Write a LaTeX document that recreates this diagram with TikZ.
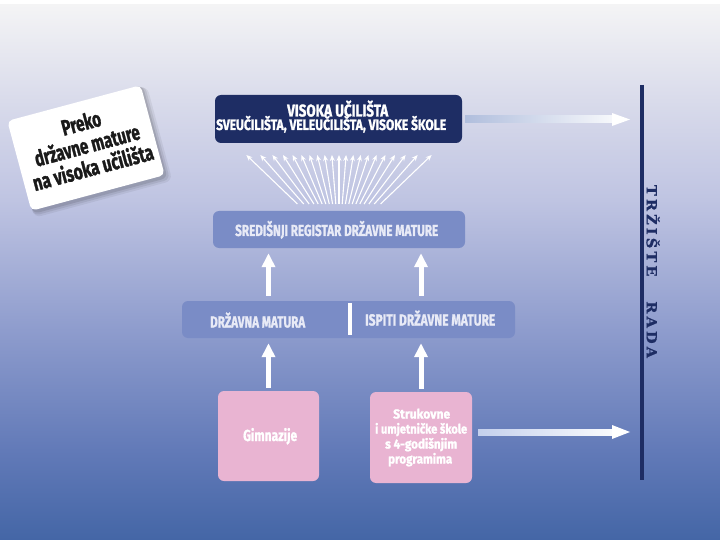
\documentclass[tikz,border=0pt]{standalone}
\usepackage{fontspec}
\setmainfont{Fira Sans}[BoldFeatures={FakeBold=1.6}]
\newfontfamily\serifb{DejaVu Serif}[BoldFeatures={FakeBold=1}]
\usetikzlibrary{arrows.meta,calc}
\definecolor{navy}{HTML}{1E2D64}
\definecolor{regbox}{HTML}{7A8CC6}
\definecolor{regtxt}{HTML}{E8EAF6}
\definecolor{pinkbox}{HTML}{E9B4D2}
\definecolor{cardtxt}{HTML}{1A1A1A}
\definecolor{arrA}{HTML}{B0BEDD}
\definecolor{arrB}{HTML}{C4D0EC}
\definecolor{bgA}{HTML}{4466A6}
\definecolor{bgB}{HTML}{627AB8}
\definecolor{bgC}{HTML}{8E9CCD}
\definecolor{bgD}{HTML}{BFC4E2}
\definecolor{bgE}{HTML}{D9DBEB}
\definecolor{bgF}{HTML}{F4F4F5}
\pgfdeclareverticalshading{bgsh}{100bp}{color(0bp)=(bgA); color(25bp)=(bgA); color(33.4bp)=(bgB); color(44.6bp)=(bgC); color(56.8bp)=(bgD); color(66.1bp)=(bgE); color(75bp)=(bgF); color(100bp)=(bgF)}
\newcommand{\hfit}[2]{\resizebox{#1pt}{\height}{#2}}
\newcommand{\fs}[1]{\fontsize{#1}{#1}\selectfont\bfseries}
\begin{document}
\begin{tikzpicture}[x=1pt,y=-1pt,
  box/.style={rounded corners=6pt, inner sep=0pt, anchor=center},
  lbl/.style={inner sep=0pt, anchor=base west},
  bigarrow/.style={white, line width=5pt, -{Triangle[width=13pt,length=14pt]}},
  fanarrow/.style={white, line width=1.1pt, -{Stealth[length=6pt,width=5pt]}}]
\useasboundingbox (0,0) rectangle (720,540);
\fill[white] (0,0) rectangle (720,540);
\shade[shading=bgsh] (0,5) rectangle (720,540);

% card with soft shadow
\begin{scope}[shift={(86,148)}, rotate=15]
  \fill[black, opacity=0.06, rounded corners=7pt] (-68,-44) rectangle (75,54);
  \fill[black, opacity=0.08, rounded corners=6pt] (-68,-45) rectangle (73,52);
  \fill[black, opacity=0.10, rounded corners=6pt] (-68,-46) rectangle (71,50);
\end{scope}
\node[box, rotate=15, fill=white, minimum width=138pt, minimum height=93pt, rounded corners=5pt] (card) at (86,148) {};
\node[rotate=15, inner sep=0pt, align=center, text=cardtxt, font=\fontsize{22}{23}\selectfont\bfseries] (cardt) at (87,145)
  {\hfit{40}{Preko}\\\hfit{108}{državne mature}\\\hfit{124}{na visoka učilišta}};

% boxes
\node[box, fill=navy, minimum width=247pt, minimum height=48pt] (vis) at (338.5,119) {};
\node[box, fill=regbox, minimum width=252pt, minimum height=37pt] (reg) at (339,229.5) {};
\node[box, fill=regbox, minimum width=333pt, minimum height=37pt] (row3) at (348.5,319.5) {};
\node[box, fill=pinkbox, minimum width=101pt, minimum height=90pt] (gimn) at (268.5,436) {};
\node[box, fill=pinkbox, minimum width=102pt, minimum height=91pt] (struk) at (421,437.5) {};

% texts
\node[lbl, text=white, font=\fs{17}] (vt1) at (287,116.5) {\hfit{101}{VISOKA UČILIŠTA}};
\node[lbl, text=white, font=\fs{15}] (vt2) at (216,130) {\hfit{230}{SVEUČILIŠTA, VELEUČILIŠTA, VISOKE ŠKOLE}};
\node[lbl, text=regtxt, font=\fs{16}] (rt) at (235,236) {\hfit{203}{SREDIŠNJI REGISTAR DRŽAVNE MATURE}};
\node[lbl, text=regtxt, font=\fs{16}] (dmt) at (210,327.5) {\hfit{95}{DRŽAVNA MATURA}};
\node[lbl, text=regtxt, font=\fs{16}] (idt) at (365,325.5) {\hfit{130}{ISPITI DRŽAVNE MATURE}};
\node[lbl, text=white, font=\fs{16}] (gt) at (243,441) {\hfit{54}{Gimnazije}};
\node[lbl, text=white, font=\fs{13}] (st1) at (393,418.5) {\hfit{57}{Strukovne}};
\node[lbl, text=white, font=\fs{13}] (st2) at (375,433.5) {\hfit{92}{i umjetničke škole}};
\node[lbl, text=white, font=\fs{13}] (st3) at (385,448.5) {\hfit{72}{s 4-godišnjim}};
\node[lbl, text=white, font=\fs{13}] (st4) at (388,463.5) {\hfit{64}{programima}};

% divider in row 3
\coordinate (dv1) at (350,303);
\coordinate (dv2) at (350,335);
\draw[white, line width=4pt] (dv1) -- (dv2);

% vertical white arrows
\draw[bigarrow, shorten <=5pt, shorten >=5pt] (row3.north -| gimn.north) -- (reg.south -| gimn.north);
\draw[bigarrow, shorten <=5pt, shorten >=5pt] (row3.north -| struk.north) -- (reg.south -| struk.north);
\draw[bigarrow, shorten <=3pt, shorten >=5pt] (gimn.north) -- (row3.south -| gimn.north);
\draw[bigarrow, shorten <=3pt, shorten >=5pt] (struk.north) -- (row3.south -| struk.north);

% fan of arrows
\foreach \i in {0,...,20}{
  \pgfmathsetmacro{\ang}{-46.8+4.68*\i}
  \coordinate (fb\i) at ({339+39*tan(\ang)},204);
  \coordinate (ft\i) at ({339+87*tan(\ang)},155);
  \draw[fanarrow] (fb\i) -- (ft\i);
}

% labour market line and label
\coordinate (mt) at (642,85);
\coordinate (mb) at (642,480);
\draw[navy, line width=4pt] (mt) -- (mb);
\node[rotate=-90, inner sep=0pt, text=navy, font=\serifb\bfseries\fontsize{14}{15}\selectfont] (trz) at (653,271.5)
  {\resizebox{173pt}{\height}{T\hspace{3pt}R\hspace{3pt}Ž\hspace{3pt}I\hspace{3pt}Š\hspace{3pt}T\hspace{3pt}E\hspace{24pt}R\hspace{3pt}A\hspace{3pt}D\hspace{3pt}A}};

% horizontal gradient arrows
\coordinate (a1s) at ($(vis.east)+(3,0.5)$);
\coordinate (a1e) at (630,119.5);
\shade[left color=arrA, right color=white!90!arrA] ($(a1s)+(0,-3.5)$) rectangle ($(a1e)+(-16,3.5)$);
\fill[white] ($(a1e)+(-18,-6.5)$) -- (a1e) -- ($(a1e)+(-18,6.5)$) -- cycle;

\coordinate (a2s) at ($(struk.east)+(6,-5.5)$);
\coordinate (a2e) at (630,432);
\shade[left color=arrB, right color=white!92!arrB] ($(a2s)+(0,-3)$) rectangle ($(a2e)+(-16,3)$);
\fill[white] ($(a2e)+(-18,-7)$) -- (a2e) -- ($(a2e)+(-18,7)$) -- cycle;
\end{tikzpicture}
\end{document}
